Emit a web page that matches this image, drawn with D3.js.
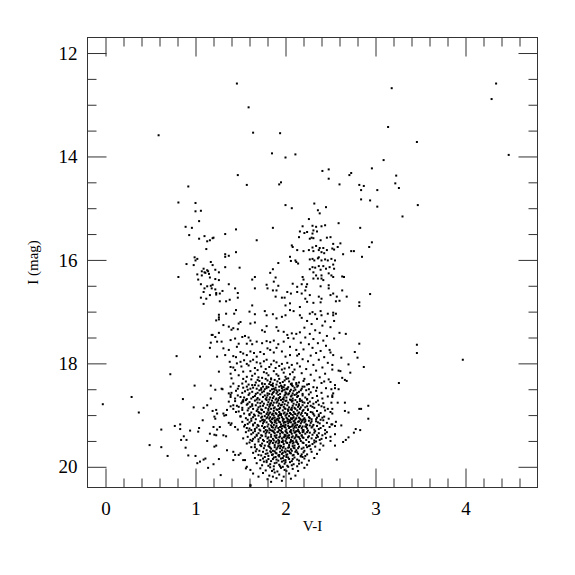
<!DOCTYPE html>
<html>
<head>
<meta charset="utf-8">
<script src="https://cdn.jsdelivr.net/npm/d3@7"></script>
<style>
body { margin: 0; background: #fff; }
text { font-family: "Liberation Serif", "DejaVu Serif", serif; }
</style>
</head>
<body>
<div id="chart"></div>
<script>
// every star is [V-I, I]
const brightStars = [[1.46,12.59],[1.59,13.05],[0.59,13.59],[1.64,13.54],[1.94,13.55],[1.85,13.94],[2.00,14.02],[1.47,14.36],[0.92,14.58],[1.57,14.55],[1.95,14.50],[1.93,14.54],[3.18,12.68],[4.34,12.59],[4.29,12.89],[3.14,13.43],[3.46,13.72],[2.11,13.96],[4.48,13.97],[3.09,14.07],[2.96,14.23],[2.41,14.28],[2.48,14.25],[2.48,14.43],[2.73,14.32],[2.71,14.36],[3.23,14.37],[2.60,14.54],[2.82,14.55],[2.87,14.57],[3.22,14.52],[3.26,14.61],[2.84,14.65],[3.02,14.65],[2.84,14.83],[2.94,14.85],[3.02,14.97],[3.30,15.16],[3.47,14.94],[2.00,14.94],[2.07,15.00],[2.32,14.91],[2.36,15.04],[2.38,15.10],[2.45,14.98],[2.59,15.29],[2.83,15.38],[1.86,15.38],[2.26,15.21],[3.46,17.64],[3.46,17.80],[3.97,17.93],[3.26,18.38],[2.96,15.66],[2.93,15.75],[2.94,16.66],[2.73,15.83],[2.76,15.83],[2.85,15.94],[-0.03,18.79],[0.29,18.65],[0.37,18.95],[0.49,19.58],[0.62,19.28],[0.62,19.62],[0.69,19.79],[0.72,18.21],[0.79,17.86],[0.81,16.33]];

const blueStars = [[0.81,14.89],[1.00,14.90],[1.00,15.06],[1.06,15.05],[1.04,15.25],[0.89,15.36],[0.96,15.38],[0.93,15.52],[1.04,15.59],[1.10,15.54],[1.13,15.64],[1.16,15.62],[1.19,15.58],[1.20,15.57],[1.33,15.50],[1.45,15.41],[1.68,15.62],[1.12,15.79],[1.33,15.89],[1.37,15.92],[1.33,15.94],[1.45,15.85],[0.99,15.95],[1.02,15.98],[1.00,16.01],[0.90,16.08],[0.98,16.10],[1.17,16.04],[1.19,16.10],[1.33,16.14],[1.49,16.15],[1.09,16.17],[1.07,16.22],[1.10,16.24],[1.13,16.20],[1.14,16.22],[1.15,16.27],[1.11,16.25],[1.07,16.30],[1.02,16.28],[1.22,16.19],[1.26,16.24],[1.16,16.34],[1.22,16.37],[1.26,16.39],[1.03,16.38],[1.06,16.47],[1.13,16.51],[1.17,16.50],[1.19,16.48],[1.10,16.55],[1.09,16.62],[1.18,16.55],[1.22,16.57],[1.23,16.64],[1.23,16.67],[1.27,16.65],[1.30,16.60],[1.37,16.47],[1.44,16.55],[1.47,16.64],[1.47,16.73],[1.16,16.68],[1.06,16.73],[1.12,16.75],[1.27,16.80],[1.34,16.80],[1.38,16.77],[1.09,16.85],[1.63,16.38],[1.66,16.33],[1.66,16.55],[1.79,16.48],[1.80,16.55],[1.83,16.25],[1.63,16.88],[1.60,17.00],[1.66,17.05],[1.77,16.99],[1.79,17.07],[1.45,16.97],[1.43,17.04],[1.34,17.04],[1.26,17.06],[1.26,17.11],[1.26,17.15],[1.23,17.17],[1.19,17.45],[1.17,17.60],[1.24,17.58],[1.16,17.70],[1.24,17.87]];

const giantBranch = [[2.16,15.45],[2.21,15.48],[2.24,15.46],[2.31,15.43],[2.35,15.45],[2.30,15.49],[2.15,15.56],[2.27,15.59],[2.29,15.57],[2.31,15.58],[2.39,15.62],[2.46,15.57],[2.50,15.56],[2.61,15.68],[2.07,15.72],[2.08,15.75],[2.13,15.81],[2.20,15.83],[2.26,15.81],[2.31,15.83],[2.37,15.81],[2.42,15.77],[2.46,15.81],[2.52,15.78],[2.54,15.80],[2.58,15.75],[2.64,15.89],[2.34,15.73],[2.30,15.76],[2.38,15.77],[2.53,15.69],[2.40,15.85],[2.43,15.87],[2.19,15.35],[2.30,15.34],[2.34,15.36],[2.40,15.35],[2.44,15.33],[2.05,15.94],[2.06,16.02],[2.11,16.01],[2.12,16.04],[2.14,16.07],[2.27,15.99],[2.30,15.98],[2.32,16.01],[2.36,15.97],[2.37,15.95],[2.40,16.01],[2.44,15.99],[2.47,16.01],[2.51,15.98],[2.55,16.01],[1.92,16.06],[1.86,16.18],[2.27,16.18],[2.30,16.14],[2.33,16.15],[2.31,16.24],[2.37,16.12],[2.39,16.19],[2.42,16.12],[2.45,16.17],[2.49,16.14],[2.53,16.09],[2.54,16.17],[2.48,16.26],[2.51,16.30],[2.40,16.30],[2.34,16.30],[2.31,16.36],[2.36,16.36],[2.40,16.36],[2.53,16.33],[2.63,16.32],[2.65,16.33],[1.89,16.34],[1.87,16.42],[1.92,16.50],[1.86,16.59],[1.90,16.59],[2.19,16.33],[2.20,16.38],[2.18,16.47],[2.13,16.52],[2.08,16.46],[2.24,16.47],[2.23,16.52],[2.22,16.59],[2.18,16.65],[2.13,16.62],[2.06,16.65],[2.02,16.62],[1.96,16.73],[1.99,16.73],[1.89,16.71],[2.05,16.84],[2.00,16.88],[2.27,16.68],[2.37,16.71],[2.40,16.75],[2.39,16.82],[2.31,16.83],[2.22,16.75],[2.24,16.81],[2.50,16.68],[2.53,16.65],[2.57,16.71],[2.68,16.71],[2.63,16.59],[2.48,16.55],[2.48,16.49],[2.39,16.51],[2.42,16.39],[1.86,17.05],[1.90,17.13],[1.96,17.10],[2.00,17.07],[2.05,16.97],[2.09,16.99],[2.16,16.91],[2.16,17.07],[2.27,17.04],[2.30,17.01],[2.33,17.05],[2.39,16.99],[2.40,17.07],[2.47,17.04],[2.53,17.07],[2.56,17.04],
[2.18,17.12],[2.24,17.18],[2.35,17.14],[2.44,17.19],[2.29,17.24],[2.41,17.27],[2.21,17.31],[2.50,17.30],[2.33,17.36],[2.16,17.40],[2.27,17.43],[2.38,17.41],[2.46,17.47],[2.22,17.50],[2.31,17.53],[2.42,17.56],[2.54,17.52],[2.17,17.60],[2.26,17.63],[2.36,17.61],[2.45,17.66],[2.30,17.70],[2.20,17.73],[2.39,17.76],[2.49,17.74],[2.15,17.82],[2.28,17.85],[2.34,17.80],[2.43,17.88],[2.53,17.84],[2.19,17.92],[2.25,17.96],[2.37,17.93],[2.47,17.99],[2.31,18.03],[2.16,18.06],[2.41,18.08],[2.23,18.11],[2.34,18.14],[2.52,18.12],[2.18,18.19],[2.28,18.22],[2.44,18.20],[2.38,18.27],[2.21,18.30],[2.32,18.33],[2.48,18.31],[2.15,18.37],[2.26,18.40],[2.40,18.38],[2.55,18.42],[2.19,18.45],[2.35,18.47]];

const redEdge = [[2.56,16.80],[2.60,16.79],[2.82,16.82],[2.82,16.89],[2.53,17.02],[2.54,17.18],[2.60,17.41],[2.67,17.43],[2.82,17.62],[2.50,17.79],[2.77,17.78],[2.80,17.89],[2.62,17.89],[2.52,18.03],[2.70,18.02],[2.87,18.07],[2.59,18.14],[2.61,18.15],[2.72,18.18],[2.63,18.28],[2.66,18.32],[2.68,18.34],[2.50,18.36],[2.51,18.50],[2.55,18.48],[2.59,18.50],[2.53,18.58],[2.52,18.62],[2.52,18.65],[2.51,18.76],[2.58,18.76],[2.66,18.76],[2.52,18.88],[2.66,18.92],[2.70,18.95],[2.82,18.88],[2.84,18.88],[2.92,18.82],[2.92,19.07],[2.52,18.97],[2.51,19.18],[2.55,19.21],[2.62,19.20],[2.56,19.13],[2.78,19.27],[2.83,19.29],[2.76,19.34],[2.70,19.43],[2.67,19.48],[2.64,19.52],[2.55,19.37],[2.50,19.42],[2.50,19.50],[2.55,19.59],[2.57,19.86]];

const blueEdge = [[0.99,18.43],[1.17,18.43],[1.22,18.51],[0.86,18.69],[0.98,18.85],[1.09,18.86],[1.13,18.81],[1.19,18.92],[1.23,18.90],[1.08,19.10],[1.22,19.07],[1.21,19.03],[0.77,19.21],[0.83,19.18],[0.83,19.27],[0.94,19.30],[1.04,19.25],[1.03,19.32],[1.20,19.23],[1.21,19.38],[1.23,19.39],[0.87,19.41],[0.90,19.48],[0.84,19.48],[1.13,19.50],[1.21,19.61],[1.23,19.59],[0.89,19.63],[0.92,19.78],[1.00,19.79],[1.09,19.86],[1.05,19.90],[1.02,19.93],[1.20,19.95],[1.14,20.02],[1.26,19.85],[1.28,20.16],[1.31,18.97],[1.32,19.01],[1.34,19.41],[1.35,19.68],[1.39,18.83],[1.40,19.16],[1.42,18.88],[1.45,18.94],[1.44,19.77],[1.47,19.28],[1.50,19.74],[1.55,19.87],[1.56,20.03],[1.57,19.55],[1.61,20.37],[1.84,20.29],[1.30,18.50],[1.37,18.58],[1.40,18.57],[1.39,18.65],[1.24,18.97],[1.35,18.90],[1.34,19.00],[1.42,18.81],[1.48,18.84],[1.52,18.74],[1.50,19.03],[1.37,19.15],[1.39,19.19],[1.44,19.23],[1.27,19.23],[1.24,19.28],[1.31,19.39],[1.16,19.36],[1.11,19.84],[1.42,19.71],[1.48,19.77],[1.42,19.87],[1.53,19.87],[1.57,20.00],[1.61,20.06],[1.64,20.13],[1.70,20.19],[1.61,20.35]];

const subgiants = [[1.48,17.23],[1.50,17.20],[1.31,17.26],[1.37,17.29],[1.40,17.35],[1.42,17.32],[1.47,17.34],[1.61,17.23],[1.66,17.21],[1.74,17.36],[1.77,17.39],[1.79,17.28],[1.90,17.30],[1.92,17.37],[1.98,17.39],[2.02,17.45],[2.07,17.42],[2.09,17.52],[2.03,17.51],[2.12,17.43],[1.26,17.41],[1.22,17.49],[1.18,17.45],[1.29,17.58],[1.39,17.55],[1.44,17.52],[1.48,17.62],[1.52,17.49],[1.55,17.47],[1.59,17.50],[1.61,17.56],[1.46,17.68],[1.57,17.62],[1.63,17.63],[1.68,17.58],[1.74,17.61],[1.79,17.57],[1.83,17.59],[1.87,17.56],[1.92,17.63],[1.98,17.58],[2.05,17.68],[2.12,17.74],[1.31,17.71],[1.37,17.74],[1.33,17.84],[1.42,17.86],[1.45,17.88],[1.50,17.78],[1.53,17.81],[1.57,17.84],[1.61,17.77],[1.65,17.80],[1.68,17.87],[1.72,17.78],[1.76,17.82],[1.80,17.71],[1.83,17.74],[1.87,17.79],[1.90,17.70],[1.96,17.77],[2.00,17.87],[2.05,17.84],[2.13,17.85],[1.05,17.87],[1.38,17.97],[1.39,18.07],[1.42,18.08],[1.46,18.00],[1.50,17.97],[1.54,17.94],[1.57,18.01],[1.61,17.96],[1.64,17.93],[1.68,17.98],[1.72,18.00],[1.76,17.96],[1.79,17.93],[1.84,18.02],[1.87,17.95],[1.90,17.98],[1.96,18.01],[2.02,17.99],[2.07,18.03],[2.13,18.00],[1.26,18.16],[1.39,18.20],[1.40,18.29],[1.44,18.13],[1.48,18.23],[1.53,18.16],[1.57,18.26],[1.61,18.15],[1.66,18.20],[1.70,18.27],[1.76,18.17],[1.81,18.23],[1.87,18.15],[1.92,18.24],[1.96,18.12],[2.00,18.26],[2.05,18.21],[2.10,18.27],[1.59,18.04],[1.66,18.09],[1.73,18.06],[1.78,18.11],[1.82,18.07],[1.89,18.09],[1.93,18.05],[1.99,18.10],[2.04,18.08],[2.10,18.12],[1.63,18.24],[1.74,18.28],[1.79,18.19],[1.84,18.29],[1.90,18.21],[1.98,18.18],[2.03,18.29],[2.08,18.17],[1.69,18.13],[1.51,18.06],[1.29,18.49],[1.39,18.45],[1.42,18.39],[1.47,18.49],[1.52,18.39],[1.57,18.45],[1.63,18.42],[1.68,18.49],[1.74,18.39],[1.79,18.45],[1.85,18.42],[1.90,18.52],[1.96,18.45],[2.02,18.49],[2.07,18.42],[2.13,18.45],[1.17,18.68],[1.39,18.61],[1.44,18.68],[1.50,18.65],[1.37,18.74],[1.53,18.71]];

const coreUpper = [[1.62,18.31],[1.71,18.34],[1.78,18.30],[1.83,18.36],[1.88,18.32],[1.94,18.38],[1.99,18.33],[2.04,18.35],[2.09,18.31],[1.67,18.37],[1.74,18.39],[1.86,18.39],[1.91,18.35],[2.01,18.30],[2.12,18.38],[1.56,18.35],[1.80,18.33],[1.97,18.36],[2.07,18.39],[1.69,18.32],[2.20,18.34],[1.53,18.30],[1.84,18.31],[1.93,18.30],[2.43,18.35],
[1.48,18.44],[1.59,18.41],[1.64,18.47],[1.70,18.43],[1.73,18.48],[1.77,18.40],[1.81,18.46],[1.84,18.42],[1.87,18.49],[1.90,18.41],[1.93,18.45],[1.96,18.48],[1.99,18.42],[2.03,18.46],[2.06,18.40],[2.10,18.47],[2.14,18.43],[2.18,18.49],[1.61,18.49],[1.75,18.45],[1.82,18.40],[1.89,18.47],[1.95,18.43],[2.01,18.49],[2.08,18.44],[2.24,18.41],[2.31,18.46],[1.66,18.42],[1.79,18.48],[1.86,18.44],[1.98,18.46],[2.12,18.41],[2.45,18.48],[1.53,18.47],[2.21,18.45],
[1.45,18.53],[1.52,18.57],[1.58,18.51],[1.63,18.55],[1.67,18.59],[1.71,18.52],[1.74,18.56],[1.77,18.50],[1.80,18.58],[1.83,18.53],[1.86,18.57],[1.88,18.51],[1.91,18.55],[1.94,18.59],[1.97,18.52],[2.00,18.56],[2.02,18.50],[2.05,18.54],[2.08,18.58],[2.11,18.51],[2.15,18.55],[2.19,18.59],[2.23,18.52],[2.28,18.56],[2.34,18.53],[1.69,18.57],[1.76,18.54],[1.82,18.59],[1.85,18.50],[1.90,18.58],[1.96,18.54],[1.99,18.51],[2.04,18.58],[2.09,18.53],[2.13,18.57],[2.26,18.50],[1.60,18.58],[1.73,18.51],[1.87,18.55],[1.93,18.52],[2.06,18.51],[2.17,18.52],[2.40,18.57],[1.55,18.54],[2.01,18.58],
[1.47,18.62],[1.54,18.66],[1.59,18.61],[1.62,18.68],[1.66,18.63],[1.69,18.67],[1.72,18.60],[1.75,18.65],[1.78,18.69],[1.80,18.62],[1.83,18.66],[1.85,18.60],[1.87,18.64],[1.90,18.68],[1.92,18.61],[1.94,18.65],[1.97,18.69],[1.99,18.62],[2.01,18.66],[2.03,18.60],[2.06,18.64],[2.08,18.68],[2.10,18.61],[2.13,18.65],[2.16,18.69],[2.19,18.62],[2.22,18.66],[2.26,18.60],[2.30,18.67],[2.35,18.63],[2.41,18.68],[1.64,18.65],[1.77,18.62],[1.86,18.67],[1.93,18.67],[2.00,18.60],[2.07,18.62],[2.14,18.63],[2.24,18.69],[1.57,18.69],[1.79,18.66],[1.98,18.66],[2.12,18.60],[2.47,18.64],
[1.44,18.73],[1.51,18.77],[1.56,18.71],[1.60,18.75],[1.63,18.79],[1.66,18.72],[1.69,18.76],[1.71,18.70],[1.74,18.74],[1.76,18.78],[1.79,18.71],[1.81,18.75],[1.83,18.79],[1.85,18.72],[1.87,18.76],[1.89,18.70],[1.91,18.74],[1.93,18.78],[1.95,18.71],[1.97,18.75],[1.99,18.79],[2.01,18.72],[2.03,18.76],[2.05,18.70],[2.07,18.74],[2.09,18.78],[2.11,18.71],[2.13,18.75],[2.15,18.79],[2.18,18.72],[2.21,18.76],[2.24,18.70],[2.27,18.74],[2.31,18.78],[2.36,18.72],[2.42,18.77],[1.58,18.78],[1.72,18.77],[1.84,18.77],[1.92,18.71],[2.00,18.73],[2.08,18.72],[2.16,18.73],[2.25,18.77],[1.68,18.70],[1.82,18.70],[1.90,18.76],[1.98,18.70],[2.06,18.71],[2.19,18.75],[2.34,18.75],[1.53,18.74],
[1.46,18.82],[1.52,18.86],[1.57,18.80],[1.61,18.84],[1.64,18.88],[1.67,18.81],[1.70,18.85],[1.73,18.89],[1.75,18.82],[1.78,18.86],[1.80,18.80],[1.82,18.84],[1.84,18.88],[1.86,18.81],[1.88,18.85],[1.90,18.89],[1.92,18.82],[1.94,18.86],[1.96,18.80],[1.98,18.84],[2.00,18.88],[2.02,18.81],[2.04,18.85],[2.06,18.89],[2.08,18.82],[2.10,18.86],[2.12,18.80],[2.14,18.84],[2.16,18.88],[2.19,18.81],[2.22,18.85],[2.25,18.89],[2.28,18.82],[2.32,18.86],[2.37,18.80],[2.43,18.85],[1.59,18.87],[1.72,18.83],[1.81,18.88],[1.87,18.87],[1.93,18.88],[1.99,18.87],[2.03,18.89],[2.07,18.86],[2.11,18.88],[2.17,18.85],[2.24,18.83],[2.30,18.84],[1.69,18.89],[1.83,18.81],[1.95,18.81],[2.15,18.81],[2.40,18.83],[1.63,18.82],[2.47,18.88],
[1.48,18.93],[1.54,18.97],[1.58,18.91],[1.62,18.95],[1.65,18.99],[1.68,18.92],[1.71,18.96],[1.74,18.90],[1.76,18.94],[1.79,18.98],[1.81,18.91],[1.83,18.95],[1.85,18.99],[1.87,18.92],[1.89,18.96],[1.91,18.90],[1.93,18.94],[1.95,18.98],[1.97,18.91],[1.99,18.95],[2.01,18.99],[2.03,18.92],[2.05,18.96],[2.07,18.90],[2.09,18.94],[2.11,18.98],[2.13,18.91],[2.15,18.95],[2.17,18.99],[2.19,18.92],[2.22,18.96],[2.25,18.90],[2.28,18.94],[2.31,18.98],[2.35,18.92],[2.39,18.96],[2.44,18.91],[1.60,18.98],[1.73,18.97],[1.82,18.97],[1.86,18.97],[1.90,18.98],[1.94,18.97],[1.98,18.97],[2.02,18.97],[2.06,18.98],[2.10,18.97],[2.14,18.97],[2.18,18.96],[2.24,18.98],[2.30,18.95],[1.70,18.94],[1.80,18.95],[2.03,18.90],[2.20,18.90],[2.37,18.99],[1.52,18.90],[2.50,18.94]];

const coreMiddle = [[1.50,19.02],[1.56,19.06],[1.60,19.00],[1.64,19.04],[1.67,19.08],[1.70,19.01],[1.73,19.05],[1.75,19.09],[1.77,19.02],[1.79,19.06],[1.81,19.00],[1.83,19.04],[1.85,19.08],[1.87,19.01],[1.88,19.05],[1.90,19.09],[1.92,19.02],[1.93,19.06],[1.95,19.00],[1.96,19.04],[1.98,19.08],[2.00,19.01],[2.01,19.05],[2.03,19.09],[2.04,19.02],[2.06,19.06],[2.08,19.00],[2.09,19.04],[2.11,19.08],[2.13,19.01],[2.15,19.05],[2.17,19.09],[2.19,19.02],[2.21,19.06],[2.24,19.00],[2.26,19.04],[2.29,19.08],[2.32,19.01],[2.35,19.05],[2.39,19.09],[2.43,19.03],[2.48,19.07],[1.62,19.07],[1.74,19.03],[1.82,19.07],[1.86,19.06],[1.91,19.07],[1.97,19.07],[2.02,19.07],[2.07,19.08],[2.12,19.06],[2.16,19.07],[2.20,19.08],[2.27,19.06],[2.34,19.08],[1.66,19.01],[1.80,19.04],[1.93,19.00],[2.08,19.06],[2.22,19.09],[2.37,19.02],[1.58,19.09],[2.41,19.05],
[1.52,19.13],[1.58,19.17],[1.62,19.11],[1.66,19.15],[1.69,19.19],[1.72,19.12],[1.75,19.16],[1.77,19.10],[1.79,19.14],[1.81,19.18],[1.83,19.11],[1.85,19.15],[1.87,19.19],[1.89,19.12],[1.90,19.16],[1.92,19.10],[1.94,19.14],[1.95,19.18],[1.97,19.11],[1.98,19.15],[2.00,19.19],[2.02,19.12],[2.03,19.16],[2.05,19.10],[2.06,19.14],[2.08,19.18],[2.10,19.11],[2.11,19.15],[2.13,19.19],[2.15,19.12],[2.17,19.16],[2.19,19.10],[2.21,19.14],[2.23,19.18],[2.26,19.11],[2.28,19.15],[2.31,19.19],[2.34,19.12],[2.38,19.16],[2.42,19.10],[2.46,19.15],[1.64,19.18],[1.76,19.13],[1.84,19.13],[1.88,19.14],[1.93,19.13],[1.99,19.13],[2.04,19.13],[2.09,19.12],[2.14,19.13],[2.18,19.13],[2.22,19.12],[2.29,19.12],[1.74,19.10],[1.88,19.10],[2.00,19.14],[2.10,19.16],[2.24,19.19],[2.36,19.14],[1.60,19.14],[2.52,19.18],[1.55,19.19],
[1.54,19.22],[1.60,19.26],[1.64,19.20],[1.68,19.24],[1.71,19.28],[1.74,19.21],[1.76,19.25],[1.78,19.29],[1.80,19.22],[1.82,19.26],[1.84,19.20],[1.86,19.24],[1.88,19.28],[1.90,19.21],[1.92,19.25],[1.93,19.29],[1.95,19.22],[1.96,19.26],[1.98,19.20],[2.00,19.24],[2.01,19.28],[2.03,19.21],[2.04,19.25],[2.06,19.29],[2.07,19.22],[2.09,19.26],[2.11,19.20],[2.12,19.24],[2.14,19.28],[2.16,19.21],[2.18,19.25],[2.20,19.29],[2.22,19.22],[2.24,19.26],[2.27,19.20],[2.29,19.24],[2.32,19.28],[2.35,19.21],[2.39,19.25],[2.44,19.29],[2.49,19.23],[1.66,19.27],[1.77,19.23],[1.85,19.23],[1.89,19.24],[1.94,19.23],[1.99,19.23],[2.05,19.23],[2.10,19.23],[2.15,19.23],[2.19,19.22],[2.23,19.23],[2.30,19.22],[1.70,19.21],[1.83,19.29],[1.97,19.21],[2.08,19.20],[2.19,19.29],[2.37,19.27],[1.62,19.29],[2.42,19.21],[1.57,19.25],
[1.56,19.33],[1.62,19.37],[1.66,19.31],[1.70,19.35],[1.73,19.39],[1.76,19.32],[1.78,19.36],[1.80,19.30],[1.82,19.34],[1.84,19.38],[1.86,19.31],[1.88,19.35],[1.90,19.39],[1.92,19.32],[1.94,19.36],[1.95,19.30],[1.97,19.34],[1.99,19.38],[2.00,19.31],[2.02,19.35],[2.04,19.39],[2.05,19.32],[2.07,19.36],[2.09,19.30],[2.10,19.34],[2.12,19.38],[2.14,19.31],[2.16,19.35],[2.18,19.39],[2.20,19.32],[2.22,19.36],[2.25,19.30],[2.27,19.34],[2.30,19.38],[2.33,19.31],[2.37,19.35],[2.41,19.39],[2.46,19.33],[1.68,19.38],[1.79,19.33],[1.87,19.33],[1.91,19.33],[1.96,19.33],[2.01,19.33],[2.06,19.33],[2.11,19.33],[2.15,19.32],[2.19,19.33],[2.24,19.33],[2.32,19.34],[1.72,19.30],[1.85,19.30],[2.00,19.39],[2.12,19.31],[2.35,19.39],[1.59,19.30],[2.44,19.36],[1.64,19.34],
[1.58,19.42],[1.64,19.46],[1.68,19.40],[1.72,19.44],[1.75,19.48],[1.78,19.41],[1.80,19.45],[1.82,19.49],[1.84,19.42],[1.86,19.46],[1.88,19.40],[1.90,19.44],[1.92,19.48],[1.94,19.41],[1.96,19.45],[1.97,19.49],[1.99,19.42],[2.01,19.46],[2.03,19.40],[2.04,19.44],[2.06,19.48],[2.08,19.41],[2.10,19.45],[2.12,19.49],[2.14,19.42],[2.16,19.46],[2.18,19.40],[2.20,19.44],[2.23,19.48],[2.26,19.41],[2.29,19.45],[2.32,19.49],[2.36,19.42],[2.40,19.46],[2.45,19.44],[1.70,19.47],[1.81,19.43],[1.89,19.43],[1.93,19.43],[1.98,19.43],[2.02,19.43],[2.07,19.43],[2.11,19.43],[2.15,19.43],[2.19,19.43],[2.25,19.43],[1.74,19.40],[1.87,19.49],[2.00,19.40],[2.12,19.40],[2.34,19.44],[1.61,19.48],[1.66,19.43],[2.38,19.48],[1.53,19.45]];

const coreLower = [[1.60,19.53],[1.66,19.57],[1.70,19.51],[1.74,19.55],[1.77,19.59],[1.80,19.52],[1.82,19.56],[1.84,19.50],[1.86,19.54],[1.88,19.58],[1.90,19.51],[1.92,19.55],[1.94,19.59],[1.96,19.52],[1.98,19.56],[2.00,19.50],[2.02,19.54],[2.04,19.58],[2.06,19.51],[2.08,19.55],[2.10,19.59],[2.12,19.52],[2.14,19.56],[2.17,19.50],[2.20,19.54],[2.23,19.58],[2.26,19.52],[2.30,19.56],[2.34,19.51],[2.39,19.55],[1.72,19.58],[1.83,19.53],[1.89,19.53],[1.93,19.53],[1.97,19.52],[2.01,19.53],[2.05,19.53],[2.09,19.53],[2.13,19.53],[2.19,19.53],[2.27,19.59],[1.76,19.50],[1.93,19.50],[2.08,19.50],[1.63,19.50],[2.42,19.59],[2.32,19.53],
[1.62,19.62],[1.68,19.66],[1.73,19.60],[1.76,19.64],[1.79,19.68],[1.82,19.61],[1.84,19.65],[1.86,19.69],[1.88,19.62],[1.90,19.66],[1.92,19.60],[1.94,19.64],[1.96,19.68],[1.98,19.61],[2.00,19.65],[2.02,19.69],[2.04,19.62],[2.06,19.66],[2.08,19.60],[2.10,19.64],[2.12,19.68],[2.15,19.61],[2.18,19.65],[2.21,19.69],[2.24,19.62],[2.28,19.66],[2.33,19.61],[2.38,19.67],[1.71,19.69],[1.83,19.63],[1.91,19.63],[1.97,19.63],[2.03,19.63],[2.09,19.63],[2.14,19.64],[2.20,19.63],[1.81,19.60],[1.95,19.60],[2.07,19.69],[2.26,19.60],[1.66,19.62],
[1.64,19.73],[1.70,19.77],[1.75,19.71],[1.78,19.75],[1.81,19.79],[1.84,19.72],[1.86,19.76],[1.88,19.70],[1.90,19.74],[1.92,19.78],[1.94,19.71],[1.96,19.75],[1.98,19.79],[2.00,19.72],[2.02,19.76],[2.04,19.70],[2.06,19.74],[2.08,19.78],[2.11,19.71],[2.14,19.75],[2.17,19.79],[2.20,19.72],[2.24,19.76],[2.29,19.71],[2.35,19.75],[1.73,19.78],[1.80,19.74],[1.85,19.77],[1.89,19.73],[1.93,19.77],[1.97,19.73],[2.01,19.77],[2.05,19.73],[2.09,19.77],[2.13,19.72],[2.18,19.76],[1.83,19.70],[1.99,19.70],[2.22,19.79],[1.67,19.70],
[1.66,19.83],[1.72,19.87],[1.77,19.81],[1.81,19.85],[1.84,19.89],[1.87,19.82],[1.90,19.86],[1.93,19.80],[1.95,19.84],[1.98,19.88],[2.01,19.81],[2.04,19.85],[2.07,19.89],[2.10,19.82],[2.13,19.86],[2.17,19.80],[2.21,19.84],[2.26,19.88],[2.32,19.83],[1.79,19.88],[1.86,19.85],[1.89,19.81],[1.92,19.88],[1.97,19.83],[2.00,19.87],[2.03,19.82],[2.08,19.85],[2.15,19.88],[1.75,19.84],[2.19,19.81],
[1.68,19.93],[1.74,19.97],[1.79,19.91],[1.83,19.95],[1.87,19.99],[1.90,19.92],[1.93,19.96],[1.96,19.90],[1.99,19.94],[2.02,19.98],[2.05,19.91],[2.09,19.95],[2.13,19.99],[2.18,19.92],[2.24,19.96],[1.81,19.98],[1.88,19.93],[1.94,19.99],[2.00,19.91],[2.07,19.97],[2.15,19.94],[1.76,19.90],
[1.72,20.03],[1.78,20.07],[1.83,20.01],[1.87,20.05],[1.91,20.09],[1.95,20.02],[1.99,20.06],[2.03,20.00],[2.08,20.04],[2.14,20.08],[2.21,20.02],[1.85,20.08],[1.97,20.00],[2.01,20.08],
[1.75,20.12],[1.82,20.17],[1.88,20.11],[1.93,20.15],[1.98,20.19],[2.04,20.13],[2.11,20.17],[1.86,20.19],
[1.80,20.24],[1.90,20.22],[1.96,20.27],[2.06,20.23]];

const xMajor = [0, 1, 2, 3, 4];
const xMinor = [0.2, 0.4, 0.6, 0.8, 1.2, 1.4, 1.6, 1.8, 2.2, 2.4, 2.6, 2.8, 3.2, 3.4, 3.6, 3.8, 4.2, 4.4, 4.6];
const yMajor = [12, 14, 16, 18, 20];
const yMinor = [12.5, 13, 13.5, 14.5, 15, 15.5, 16.5, 17, 17.5, 18.5, 19, 19.5];

let width = 575, height = 575;
let padL = 87.5, padR = 537.5, padT = 37.5, padB = 487.5;

let svg = d3.select('#chart')
	.append('svg')
	.attr('width', width)
	.attr('height', height);

let x = d3.scaleLinear().domain([-0.2, 4.8]).range([padL, padR]);
let y = d3.scaleLinear().domain([11.7, 20.4]).range([padT, padB]);

let stars = [].concat(brightStars, blueStars, giantBranch, redEdge, blueEdge, subgiants, coreUpper, coreMiddle, coreLower);

svg.append('g')
	.selectAll('rect')
	.data(stars)
	.join('rect')
	.attr('x', d => x(d[0]) - 1)
	.attr('y', d => y(d[1]) - 1)
	.attr('width', 2)
	.attr('height', 2)
	.attr('fill', '#000');

// ticks point inward on all four sides
function ticks(axis, scale, values, size, tx, ty, labels) {
	let g = svg.append('g')
		.attr('transform', `translate(${tx},${ty})`)
		.call(axis(scale).tickValues(values).tickSize(-size).tickSizeOuter(0)
			.tickPadding(labels ? (axis === d3.axisBottom ? 14 : 10) : 0)
			.tickFormat(labels ? d3.format('d') : ''));
	g.select('.domain').remove();
	g.selectAll('line').attr('stroke', '#333');
	g.selectAll('text')
		.attr('fill', '#000')
		.style('font-size', '19px')
		.style('font-family', '"Liberation Serif", "DejaVu Serif", serif');
	return g;
}

ticks(d3.axisBottom, x, xMajor, 19, 0, padB, true);
ticks(d3.axisBottom, x, xMinor, 9, 0, padB, false);
ticks(d3.axisTop, x, xMajor, 19, 0, padT, false);
ticks(d3.axisTop, x, xMinor, 9, 0, padT, false);
ticks(d3.axisLeft, y, yMajor, 19, padL, 0, true);
ticks(d3.axisLeft, y, yMinor, 9, padL, 0, false);
ticks(d3.axisRight, y, yMajor, 19, padR, 0, false);
ticks(d3.axisRight, y, yMinor, 9, padR, 0, false);

svg.append('rect')
	.attr('x', padL)
	.attr('y', padT)
	.attr('width', padR - padL)
	.attr('height', padB - padT)
	.attr('fill', 'none')
	.attr('stroke', '#333')
	.attr('stroke-width', 1);

svg.append('text')
	.attr('x', (padL + padR) / 2)
	.attr('y', 531)
	.attr('text-anchor', 'middle')
	.style('font-size', '15px')
	.text('V-I');

svg.append('text')
	.attr('transform', `translate(38,${(padT + padB) / 2}) rotate(-90)`)
	.attr('text-anchor', 'middle')
	.style('font-size', '15px')
	.text('I (mag)');
</script>
</body>
</html>
